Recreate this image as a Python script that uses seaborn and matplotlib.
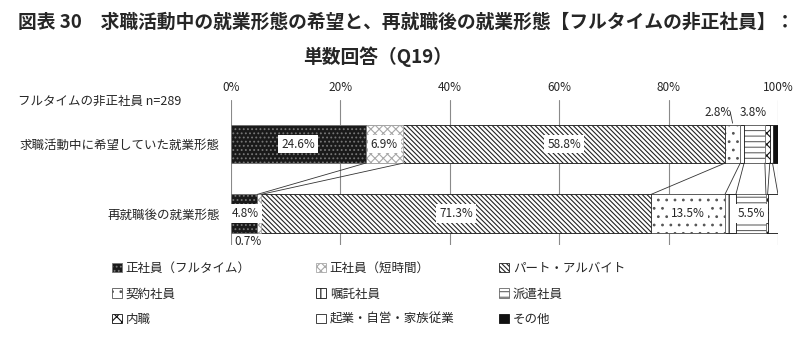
import numpy as np
import pandas as pd
import matplotlib
matplotlib.use("Agg")
import matplotlib.pyplot as plt
import seaborn as sns
from matplotlib.patches import Patch

# data (%)
categories = ["求職活動中に希望していた就業形態", "再就職後の就業形態"]
segments = ["正社員（フルタイム）", "正社員（短時間）", "パート・アルバイト",
            "契約社員", "嘱託社員", "派遣社員",
            "内職", "起業・自営・家族従業", "その他"]
wish = [24.6, 6.9, 58.8, 2.8, 0.7, 3.8, 0.9, 0.5, 1.0]
actual = [4.8, 0.7, 71.3, 13.5, 2.0, 5.5, 0.3, 1.9, 0.0]
xticks = [0, 20, 40, 60, 80, 100]

# segment looks: (face, hatch, edge)
styles = [
    ("#1a1a1a", "....", "#777777"),
    ("white", "xxxx", "#a8a8a8"),
    ("white", "\\\\\\\\\\\\\\", "#222222"),
    ("white", "..", "#555555"),
    ("white", "||", "#111111"),
    ("white", "---", "#666666"),
    ("white", "xxx", "#111111"),
    ("white", "", "#222222"),
    ("#111111", "", "#111111"),
]

sns.set_theme(style="white")
plt.rcParams["font.family"] = ["Noto Sans CJK JP", "DejaVu Sans"]
plt.rcParams["hatch.linewidth"] = 0.8

df = pd.DataFrame({"cat": categories * len(segments),
                   "seg": np.repeat(segments, 2),
                   "val": np.ravel(np.column_stack([wish, actual]))})
df["cum"] = df.groupby("cat", sort=False)["val"].cumsum()

fig = plt.figure(figsize=(7.99, 3.53), dpi=100)
ax = fig.add_axes([231 / 799, 1 - 245 / 353, 547 / 799, 145 / 353])

bar_w = 0.55
# overlay cumulative bars, last segment first
for i in reversed(range(len(segments))):
    face, hatch, edge = styles[i]
    sub = df[df["seg"] == segments[i]]
    sns.barplot(data=sub, x="cum", y="cat", orient="h", color=face, saturation=1,
                width=bar_w, hatch=hatch, edgecolor=edge, linewidth=0.6, ax=ax,
                order=categories)

# series lines between the two bars
c1 = np.cumsum(wish)
c2 = np.cumsum(actual)
for a, b in zip(c1[:-1], c2[:-1]):
    ax.plot([a, b], [bar_w / 2, 1 - bar_w / 2], color="#333333", lw=0.6, zorder=1)

# value labels inside bars
box = dict(boxstyle="square,pad=0.25", fc="white", ec="none")
for row, vals in enumerate([wish, actual]):
    cum = np.cumsum(vals)
    for v, c in zip(vals, cum):
        if v >= 4.5:
            x = max(c - v / 2, 2.6)
            ax.text(x, row, f"{v:.1f}%", ha="center", va="center", fontsize=8.5,
                    bbox=box, zorder=5)

# small labels outside
ax.text(c1[3] - wish[3] / 2 - 2.7, -0.45, f"{wish[3]:.1f}%", ha="center", va="center", fontsize=8.5)
ax.plot([c1[3] - wish[3] / 2 - 0.4, c1[3] - wish[3] / 2], [-0.45, -0.3], color="#333333", lw=0.6)
ax.text(c1[5] - wish[5] / 2 - 0.3, -0.45, f"{wish[5]:.1f}%", ha="center", va="center", fontsize=8.5)
ax.text(c2[1] - actual[1] / 2 - 2.0, 1.40, f"{actual[1]:.1f}%", ha="center", va="center", fontsize=8.5)

ax.set_xlim(0, 100)
ax.set_ylim(1.453, -0.633)
ax.set_xticks(xticks)
ax.set_xticklabels([f"{t}%" for t in xticks], fontsize=8.5)
ax.xaxis.tick_top()
ax.set_yticks([0, 1])
ax.set_yticklabels(categories, fontsize=9)
ax.tick_params(axis="both", length=0, pad=4)
ax.tick_params(axis="y", pad=8)
ax.grid(axis="x", color="#8a8a8a", lw=0.8)
ax.set_axisbelow(True)
for s in ax.spines.values():
    s.set_visible(False)
ax.set_xlabel("")
ax.set_ylabel("")

fig.text(18 / 799, 1 - 22 / 353,
         "図表 30　求職活動中の就業形態の希望と、再就職後の就業形態【フルタイムの非正社員】：",
         fontsize=13.5, fontweight="bold", ha="left", va="center")
fig.text(378 / 799, 1 - 57 / 353, "単数回答（Q19）", fontsize=13.5, fontweight="bold",
         ha="center", va="center")
fig.text(18 / 799, 1 - 101 / 353, "フルタイムの非正社員 n=289", fontsize=9, ha="left", va="center")

handles = [Patch(facecolor=f, hatch=h, edgecolor=e, linewidth=0.6) for f, h, e in styles]
col_x = [112, 316, 499]
for k in range(3):
    idx = [k, k + 3, k + 6]
    fig.legend([handles[i] for i in idx], [segments[i] for i in idx],
               loc="upper left", bbox_to_anchor=(col_x[k] / 799, 1 - 262 / 353),
               frameon=False, fontsize=9, handlelength=0.8, handleheight=0.8,
               handletextpad=0.3, labelspacing=1.0, borderpad=0, borderaxespad=0)

fig.savefig("out.png", dpi=100)
